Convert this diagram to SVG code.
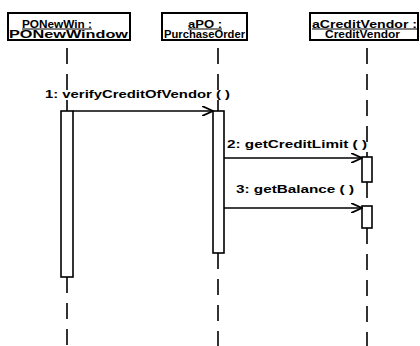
<svg xmlns="http://www.w3.org/2000/svg" width="420" height="346" viewBox="0 0 420 346">
<defs>
<style>
.box{fill:#fff;stroke:#000;stroke-width:2}
.t{font-family:"Liberation Sans",Arial,sans-serif;font-weight:bold;font-size:10px;fill:#000;text-decoration:underline}
.m{font-family:"Liberation Sans",Arial,sans-serif;font-weight:bold;font-size:10.5px;fill:#000}
.life{stroke:#000;stroke-width:1.6;stroke-dasharray:16 10;fill:none}
.act{fill:#fff;stroke:#000;stroke-width:1.6}
.msg{stroke:#000;stroke-width:1.6;fill:none}
</style>
<marker id="open" markerWidth="12" markerHeight="10" refX="11" refY="5" orient="auto" markerUnits="userSpaceOnUse">
<path d="M0,0 L11,5 L0,10" fill="none" stroke="#000" stroke-width="1.8"/>
</marker>
</defs>
<rect width="420" height="346" fill="#fff"/>
<g id="node-ponewwin">
<rect class="box" x="8" y="13" width="122" height="27"/>
<text class="t" x="22" y="27.5" textLength="70" lengthAdjust="spacingAndGlyphs">PONewWin :</text>
<text class="t" x="9" y="38" textLength="119" lengthAdjust="spacingAndGlyphs">PONewWindow</text>
</g>
<g id="node-apo">
<rect class="box" x="162" y="13" width="85" height="27"/>
<text class="t" x="188" y="27.5" textLength="34" lengthAdjust="spacingAndGlyphs">aPO :</text>
<text class="t" x="164" y="38" textLength="81" lengthAdjust="spacingAndGlyphs">PurchaseOrder</text>
</g>
<g id="node-acreditvendor">
<rect class="box" x="310" y="13" width="108" height="27"/>
<text class="t" x="312" y="27.5" textLength="105" lengthAdjust="spacingAndGlyphs">aCreditVendor :</text>
<text class="t" x="325" y="38" textLength="75" lengthAdjust="spacingAndGlyphs">CreditVendor</text>
</g>
<g id="connectors">
<line class="life" x1="67" y1="48" x2="67" y2="111"/>
<line class="life" x1="67" y1="277" x2="67" y2="346"/>
<line class="life" x1="218" y1="48" x2="218" y2="111"/>
<line class="life" x1="218" y1="253" x2="218" y2="346"/>
<line class="life" x1="367" y1="48" x2="367" y2="157"/>
<line class="life" x1="367" y1="182" x2="367" y2="206"/>
<line class="life" x1="367" y1="228" x2="367" y2="346"/>
<rect class="act" x="61" y="111" width="12" height="166"/>
<rect class="act" x="213" y="111" width="11" height="142"/>
<rect class="act" x="362" y="157" width="10" height="25"/>
<rect class="act" x="362" y="206" width="10" height="22"/>
<line class="msg" x1="73" y1="111" x2="213" y2="111" marker-end="url(#open)"/>
<line class="msg" x1="224" y1="158" x2="362" y2="158" marker-end="url(#open)"/>
<line class="msg" x1="224" y1="208" x2="362" y2="208" marker-end="url(#open)"/>
<text class="m" x="45" y="98" textLength="185" lengthAdjust="spacingAndGlyphs">1: verifyCreditOfVendor ( )</text>
<text class="m" x="227" y="148" textLength="140" lengthAdjust="spacingAndGlyphs">2: getCreditLimit ( )</text>
<text class="m" x="236" y="193" textLength="118" lengthAdjust="spacingAndGlyphs">3: getBalance ( )</text>
</g>
</svg>
